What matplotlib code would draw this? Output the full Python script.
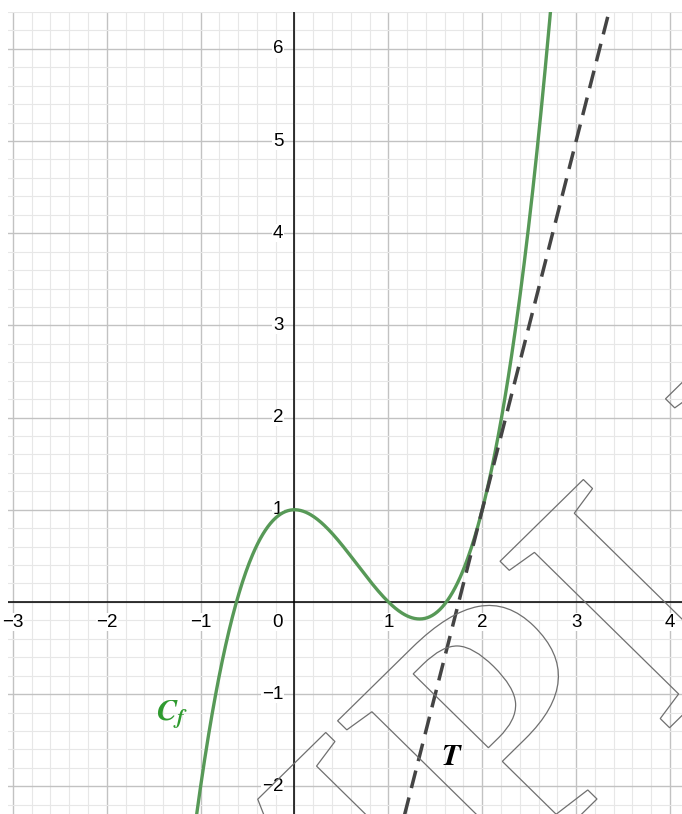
import numpy as np
import matplotlib
matplotlib.use("Agg")
import matplotlib.pyplot as plt
import matplotlib.transforms as mtransforms
from matplotlib.textpath import TextPath
from matplotlib.font_manager import FontProperties
from matplotlib.patches import PathPatch

# f(x) = x^3 - 2x^2 + 1, tangent at x=2 : y = 4x - 7
f_coeffs = [1, -2, 0, 1]
t_coeffs = [4, -7]

x_ticks = [-3, -2, -1, 1, 2, 3, 4]
y_ticks = [-2, -1, 1, 2, 3, 4, 5, 6]

curve_label = r"$C_f$"
tangent_label = r"$T$"
watermark = "MPI I"

plt.rcParams["mathtext.fontset"] = "custom"
plt.rcParams["mathtext.it"] = "STIXGeneral:italic:bold"
plt.rcParams["mathtext.rm"] = "STIXGeneral:bold"

fig = plt.figure(figsize=(6.82, 8.14), dpi=100)
ax = fig.add_axes([8 / 682, 0, 674 / 682, 802 / 814])
xmin, xmax = -3.052, 4.128
ymin, ymax = -2.301, 6.304
ax.set_xlim(xmin, xmax)
ax.set_ylim(ymin, ymax)

# grid
ax.set_xticks(np.arange(-3, 5, 1))
ax.set_yticks(np.arange(-2, 7, 1))
ax.set_xticks(np.arange(-3, 4.2, 0.2), minor=True)
ax.set_yticks(np.arange(-2.2, 6.4, 0.2), minor=True)
ax.grid(True, which="major", color="#c2c2c2", lw=1.0, zorder=0)
ax.grid(True, which="minor", color="#e7e7e7", lw=0.8, zorder=0)
ax.set_axisbelow(True)
ax.tick_params(which="both", length=0, labelbottom=False, labelleft=False)
for s in ax.spines.values():
    s.set_visible(False)

ax.axhline(0, color="black", lw=1.1, zorder=1)
ax.axvline(0, color="black", lw=1.1, zorder=1)

lab = dict(fontsize=13.5, family="Liberation Sans", zorder=2,
           bbox=dict(fc="white", ec="none", pad=0.3))
for v in x_ticks:
    ax.text(v, -0.22, str(v).replace("-", "\u2212"), ha="center", va="center", **lab)
for v in y_ticks:
    ax.text(-0.12, v, str(v).replace("-", "\u2212"), ha="right", va="center", **lab)
ax.text(-0.12, -0.22, "0", ha="right", va="center", **lab)

# curve and tangent
xs = np.linspace(xmin, xmax, 800)
ax.plot(xs, np.polyval(f_coeffs, xs), color="#579957", lw=2.4, zorder=4)
ax.plot(xs, np.polyval(t_coeffs, xs), color="#444444", lw=2.5,
        linestyle=(0, (5.2, 2.8)), zorder=4)

ax.text(-1.31, -1.22, curve_label, color="#2f9a2f", fontsize=22,
        ha="center", va="center", zorder=5)
ax.text(1.68, -1.68, tangent_label, color="black", fontsize=22,
        ha="center", va="center", zorder=5)

# outlined watermark, rotated 45 degrees
fp = FontProperties(family="Liberation Serif", weight="bold")
size = 3.9
tp = TextPath((0, 0), watermark, size=size, prop=fp)
ref = TextPath((0, 0), watermark[:3], size=size, prop=fp).get_extents()
tr = (mtransforms.Affine2D().translate(-ref.x1, -ref.y1).rotate_deg(45)
      .translate(3.077, 1.328))
patch = PathPatch(tr.transform_path(tp), fc="none", ec="#6f6f6f", lw=0.9, zorder=6)
ax.add_patch(patch)

fig.savefig("out.png", dpi=100)
